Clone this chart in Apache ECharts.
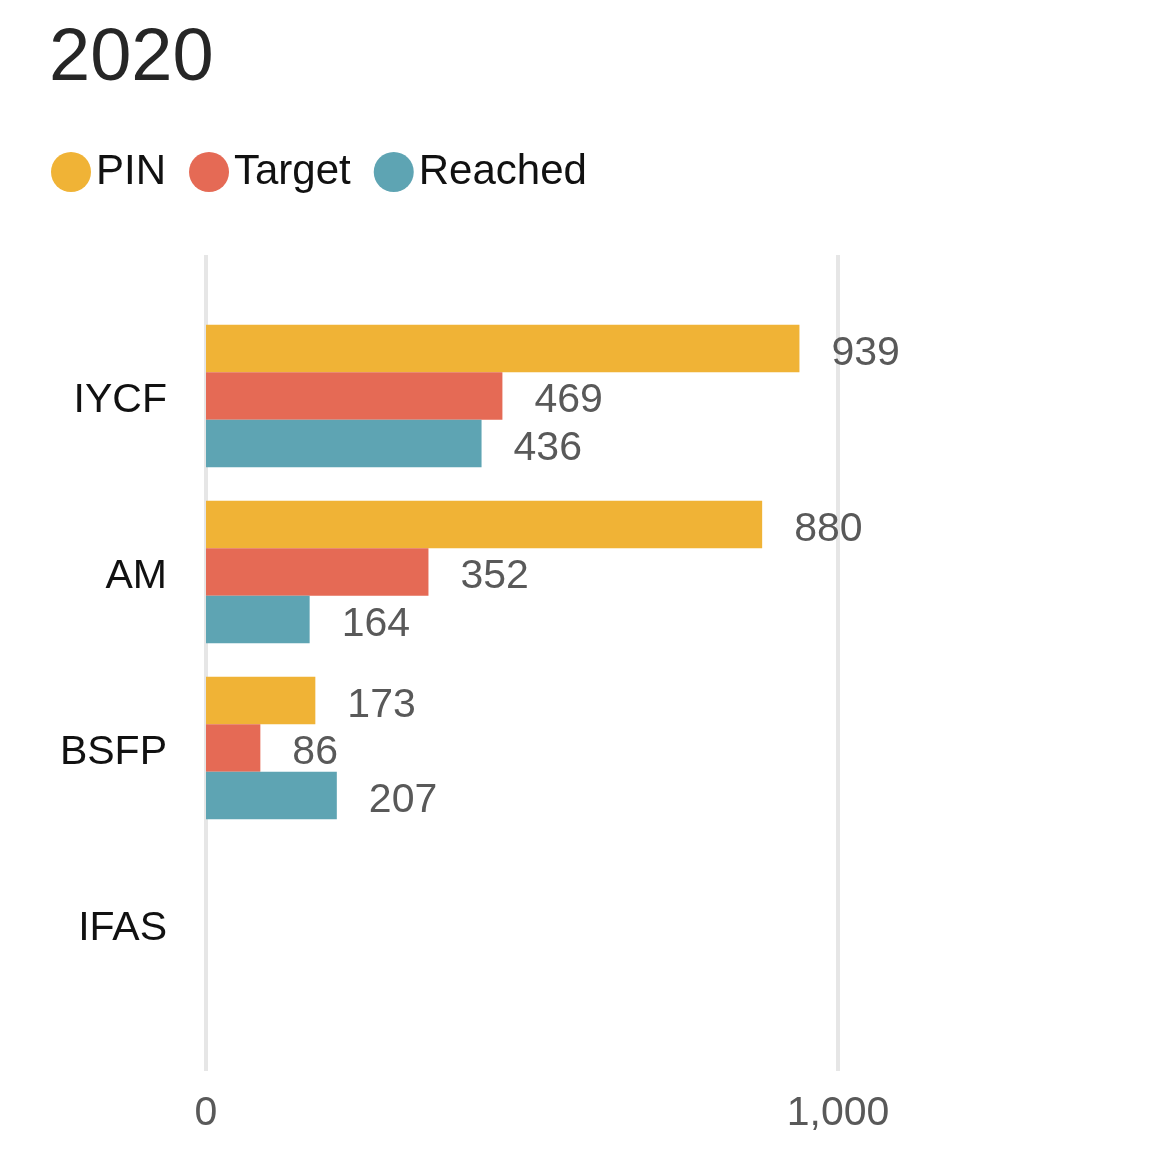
<!DOCTYPE html>
<html>
<head>
<meta charset="utf-8">
<script src="https://cdn.jsdelivr.net/npm/echarts@6/dist/echarts.min.js"></script>
<style>
  html, body { margin: 0; padding: 0; background: #fff; }
  #main { width: 1152px; height: 1154px; }
</style>
</head>
<body>
<div id="main"></div>
<script>
const categories = ['IYCF', 'AM', 'BSFP', 'IFAS'];
const pinData = [939, 880, 173, null];
const targetData = [469, 352, 86, null];
const reachedData = [436, 164, 207, null];
const xTicks = [0, 1000];

const chart = echarts.init(document.getElementById('main'));
const font = 'Liberation Sans, Arial, sans-serif';

const valueLabel = {
  show: true,
  position: 'right',
  distance: 32,
  offset: [0, 5],
  fontSize: 41,
  fontFamily: font,
  color: '#595959'
};

const option = {
  backgroundColor: '#fff',
  animation: false,
  title: {
    text: '2020',
    left: 44,
    top: 18,
    textStyle: { fontSize: 74, fontWeight: 'normal', fontFamily: font, color: '#262626' }
  },
  legend: {
    left: 46,
    top: 146,
    icon: 'circle',
    itemWidth: 40,
    itemHeight: 41,
    itemGap: 23,
    textStyle: { fontSize: 42, fontFamily: font, color: '#111', padding: [0, 0, 6, 0] },
    data: ['PIN', 'Target', 'Reached']
  },
  grid: [
    { left: 206, right: 314, top: 308, bottom: 142 },
    { left: 206, right: 314, top: 255, bottom: 83 }
  ],
  xAxis: [
    { gridIndex: 0, type: 'value', min: xTicks[0], max: xTicks[1], show: false },
    {
      gridIndex: 1, type: 'value', min: xTicks[0], max: xTicks[1], interval: 1000,
      axisLine: { show: false }, axisTick: { show: false },
      splitLine: { show: true, lineStyle: { color: '#e6e6e6', width: 4 } },
      axisLabel: {
        fontSize: 41, fontFamily: font, color: '#595959', margin: 22,
        formatter: v => v.toLocaleString('en-US')
      }
    }
  ],
  yAxis: [
    {
      gridIndex: 0, type: 'category', data: categories, inverse: true,
      axisLine: { show: false }, axisTick: { show: false },
      axisLabel: {
        margin: 39,
        formatter: '{c|{value}}',
        rich: { c: { fontSize: 41, fontFamily: font, color: '#111', padding: [9, 0, 0, 0] } }
      }
    },
    { gridIndex: 1, type: 'value', show: false, min: 0, max: 1 }
  ],
  series: [
    {
      name: 'PIN', type: 'bar', xAxisIndex: 0, yAxisIndex: 0,
      data: pinData, barGap: 0, barCategoryGap: '19%',
      itemStyle: { color: '#f0b336' }, label: valueLabel
    },
    {
      name: 'Target', type: 'bar', xAxisIndex: 0, yAxisIndex: 0,
      data: targetData, barGap: 0, barCategoryGap: '19%',
      itemStyle: { color: '#e56a55' }, label: valueLabel
    },
    {
      name: 'Reached', type: 'bar', xAxisIndex: 0, yAxisIndex: 0,
      data: reachedData, barGap: 0, barCategoryGap: '19%',
      itemStyle: { color: '#5ea4b3' }, label: valueLabel
    }
  ]
};

chart.setOption(option);
</script>
</body>
</html>
